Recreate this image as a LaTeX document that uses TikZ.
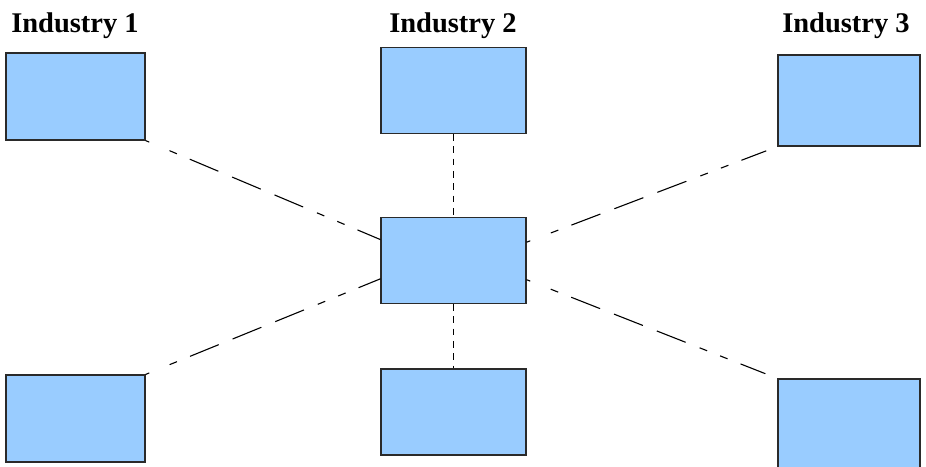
\documentclass[tikz,border=0pt]{standalone}
\usepackage{fontspec}
\setmainfont{Liberation Serif}
\usetikzlibrary{calc}
\definecolor{boxfill}{HTML}{99CCFF}
\definecolor{boxline}{HTML}{2A2A2A}
\tikzset{
  box/.style={draw=boxline, fill=boxfill, line width=1.1pt, rectangle, inner sep=0pt},
  title/.style={font=\fontsize{28.5}{30}\selectfont\bfseries, anchor=base, inner sep=0pt},
  link/.style={draw=black, line width=1.1pt,
    dash pattern=on 4pt off 22pt on 8pt off 14pt on 31pt off 15pt on 31pt off 15pt on 31pt off 15pt on 8pt off 14pt on 8pt off 14pt on 60pt off 20pt},
  vlink/.style={draw=black, line width=1.1pt, dash pattern=on 6.7pt off 5.6pt}
}
\begin{document}
\begin{tikzpicture}[x=1pt,y=-1pt]
\useasboundingbox (0,0) rectangle (926,466);
% titles
\node[title] (t1) at (75,32) {Industry 1};
\node[title] (t2) at (453,32) {Industry 2};
\node[title] (t3) at (846,32) {Industry 3};
% boxes
\node[box, minimum width=139pt, minimum height=87pt] (b1) at (75.5,96.5) {};
\node[box, minimum width=145pt, minimum height=86pt] (b2) at (453.5,90.5) {};
\node[box, minimum width=142pt, minimum height=91pt] (b3) at (849,100.5) {};
\node[box, minimum width=145pt, minimum height=86pt] (c) at (453.5,260.5) {};
\node[box, minimum width=139pt, minimum height=87pt] (b4) at (75.5,418.5) {};
\node[box, minimum width=145pt, minimum height=86pt] (b5) at (453.5,412) {};
\node[box, minimum width=142pt, minimum height=90pt] (b6) at (849,424) {};
% attachment points on the centre box
\coordinate (cl1) at ($(c.north west)!0.26!(c.south west)$);
\coordinate (cl2) at ($(c.north west)!0.71!(c.south west)$);
\coordinate (cr1) at ($(c.north east)!0.29!(c.south east)$);
\coordinate (cr2) at ($(c.north east)!0.72!(c.south east)$);
% connectors
\draw[link] (b1.south east) -- (cl1);
\draw[link] (b4.north east) -- (cl2);
\draw[link, shorten >=12pt] (cr1) -- (b3.south west);
\draw[link, shorten >=13pt] (cr2) -- (b6.north west);
\draw[vlink] (b2.south) -- (c.north);
\draw[vlink] (c.south) -- (b5.north);
\end{tikzpicture}
\end{document}
